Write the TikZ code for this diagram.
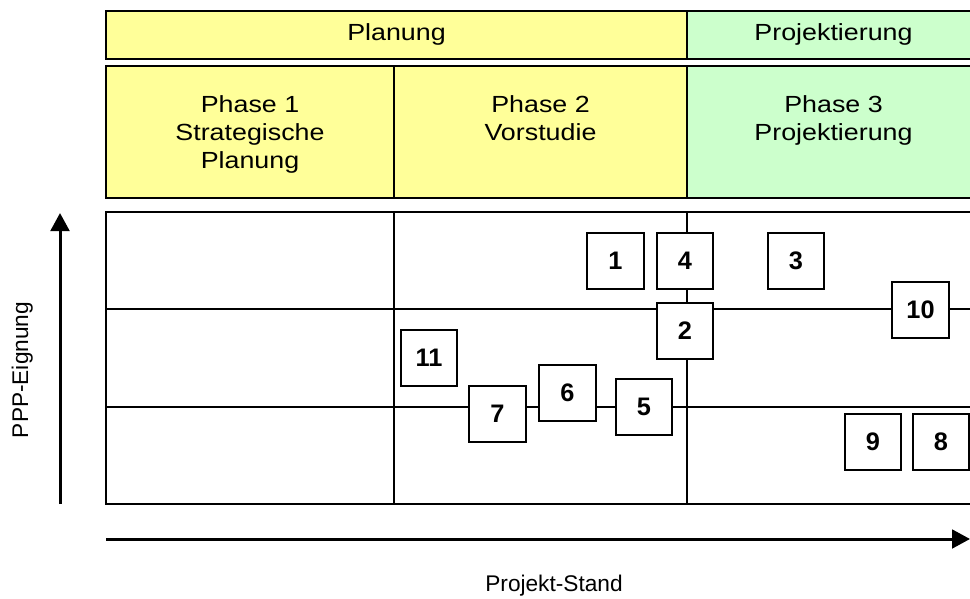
\documentclass[tikz,border=0pt]{standalone}
\usepackage{fontspec}
\setmainfont{Liberation Sans}
\newfontfamily\hdrfont[FakeStretch=1.15]{Liberation Sans}
\usetikzlibrary{arrows.meta}
\definecolor{hdryellow}{HTML}{FFFF99}
\definecolor{hdrgreen}{HTML}{CCFFCC}
\begin{document}
\begin{tikzpicture}[x=0.75pt,y=-0.75pt,
  hdrbox/.style={draw=black, line width=1.6pt},
  hdrtext/.style={font=\hdrfont\fontsize{17.5}{21}\selectfont, inner sep=0pt, align=center},
  gridline/.style={draw=black, line width=1.5pt},
  numbox/.style={draw=black, fill=white, line width=1.5pt, minimum width=42.5pt, minimum height=42pt, inner sep=0pt, font=\fontsize{19}{19}\selectfont\bfseries},
  axisarrow/.style={draw=black, line width=2.25pt, -{Triangle[length=13.5pt,width=14pt]}},
  axislabel/.style={font=\fontsize{17}{17}\selectfont, inner sep=0pt}
]
\useasboundingbox (0,0) rectangle (970,599);
\clip (0,0) rectangle (970,599);
\fill[white] (0,0) rectangle (970,599);

% top header row
\draw[hdrbox, fill=hdryellow] (106,11) rectangle (687,59);
\draw[hdrbox, fill=hdrgreen] (687,11) rectangle (980,59);
\node[hdrtext, anchor=base] (planung) at (396.5,41) {Planung};
\node[hdrtext, anchor=base] (projektierung) at (833.5,41) {Projektierung};

% phase row
\draw[hdrbox, fill=hdryellow] (106,66) rectangle (687,198);
\draw[hdrbox, fill=hdrgreen] (687,66) rectangle (980,198);
\draw[hdrbox] (394,66) -- (394,198);
\node[hdrtext, anchor=north] (ph1) at (250,95.5) {Phase 1\\Strategische\\Planung};
\node[hdrtext, anchor=north] (ph2) at (540.5,95.5) {Phase 2\\Vorstudie};
\node[hdrtext, anchor=north] (ph3) at (833.5,95.5) {Phase 3\\Projektierung};

% matrix grid
\draw[gridline] (106,212) rectangle (980,504);
\draw[gridline] (106,309) -- (980,309);
\draw[gridline] (106,407) -- (980,407);
\draw[gridline] (394,212) -- (394,504);
\draw[gridline] (687,212) -- (687,504);

% numbered boxes
\node[numbox] (b1) at (615.5,261) {1};
\node[numbox] (b4) at (685,261) {4};
\node[numbox] (b3) at (796,261) {3};
\node[numbox] (b2) at (685,330.5) {2};
\node[numbox] (b10) at (920.5,309.5) {10};
\node[numbox] (b11) at (429,358) {11};
\node[numbox] (b7) at (497.5,414) {7};
\node[numbox] (b6) at (567.5,393) {6};
\node[numbox] (b5) at (644,407) {5};
\node[numbox] (b9) at (873,442) {9};
\node[numbox] (b8) at (941,442) {8};

% axes
\coordinate (yfrom) at (60,504);
\coordinate (yto) at (60,213);
\coordinate (xfrom) at (106,539);
\coordinate (xto) at (970,539);
\draw[axisarrow] (yfrom) -- (yto);
\draw[axisarrow] (xfrom) -- (xto);
\node[axislabel, anchor=base, rotate=90] (ylab) at (28,370) {PPP-Eignung};
\node[axislabel, anchor=base] (xlab) at (554,591.5) {Projekt-Stand};
\end{tikzpicture}
\end{document}
